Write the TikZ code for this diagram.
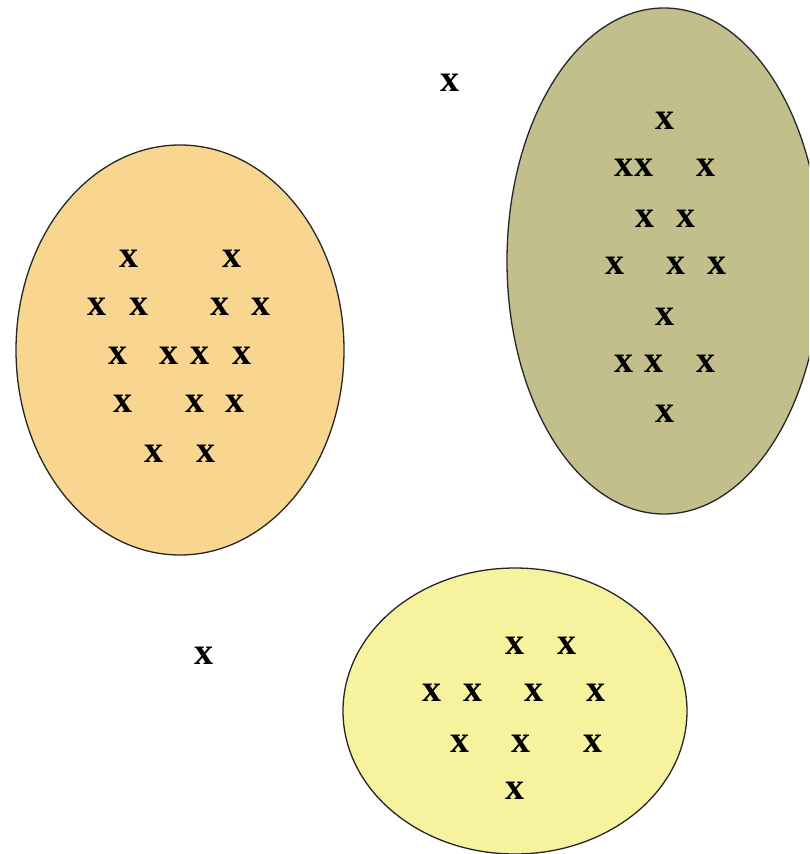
\documentclass[tikz,border=0pt]{standalone}
\usepackage{fontspec}
\setmainfont{Liberation Serif}
\definecolor{peach}{HTML}{F8D68F}
\definecolor{olive}{HTML}{C2BF8C}
\definecolor{lemon}{HTML}{F7F29D}

\begin{document}
\begin{tikzpicture}[
  x=1pt, y=-1pt,
  blob/.style={draw=black!85, line width=1.3pt},
  xmark/.style={inner sep=0pt, font=\fontsize{38}{38}\selectfont\bfseries},
  ]
  \clip (0,0) rectangle (809,854);

  % Clusters
  \draw[blob, fill=peach] (180,350) ellipse (164 and 205);
  \draw[blob, fill=olive] (664,261) ellipse (157 and 253);
  \draw[blob, fill=lemon] (515,711) ellipse (172 and 143);

  % Left cluster
  \node[xmark] (l1) at (129,259) {x}; \node[xmark] (l2) at (232,259) {x};
  \node[xmark] (l3) at (97,307) {x};  \node[xmark] (l4) at (139,307) {x};
  \node[xmark] (l5) at (220,307) {x}; \node[xmark] (l6) at (261,307) {x};
  \node[xmark] (l7) at (118,356) {x}; \node[xmark] (l8) at (169,356) {x};
  \node[xmark] (l9) at (200,356) {x}; \node[xmark] (l10) at (242,356) {x};
  \node[xmark] (l11) at (123,404) {x}; \node[xmark] (l12) at (195,404) {x};
  \node[xmark] (l13) at (235,404) {x};
  \node[xmark] (l14) at (154,454) {x}; \node[xmark] (l15) at (206,454) {x};

  % Right cluster
  \node[xmark] (r1) at (665,121) {x};
  \node[xmark] (r2) at (624,168) {x}; \node[xmark] (r3) at (644,168) {x};
  \node[xmark] (r4) at (706,168) {x};
  \node[xmark] (r5) at (645,219) {x}; \node[xmark] (r6) at (686,219) {x};
  \node[xmark] (r7) at (615,266) {x}; \node[xmark] (r8) at (676,266) {x};
  \node[xmark] (r9) at (717,266) {x};
  \node[xmark] (r10) at (665,317) {x};
  \node[xmark] (r11) at (624,364) {x}; \node[xmark] (r12) at (654,364) {x};
  \node[xmark] (r13) at (706,364) {x};
  \node[xmark] (r14) at (665,414) {x};

  % Bottom cluster
  \node[xmark] (b1) at (515,646) {x}; \node[xmark] (b2) at (567,646) {x};
  \node[xmark] (b3) at (432,693) {x}; \node[xmark] (b4) at (473,693) {x};
  \node[xmark] (b5) at (534,693) {x}; \node[xmark] (b6) at (596,693) {x};
  \node[xmark] (b7) at (460,744) {x}; \node[xmark] (b8) at (521,744) {x};
  \node[xmark] (b9) at (593,744) {x};
  \node[xmark] (b10) at (515,791) {x};

  % Outliers
  \node[xmark] (s1) at (450,83) {x};
  \node[xmark] (s2) at (204,656) {x};

\end{tikzpicture}
\end{document}
